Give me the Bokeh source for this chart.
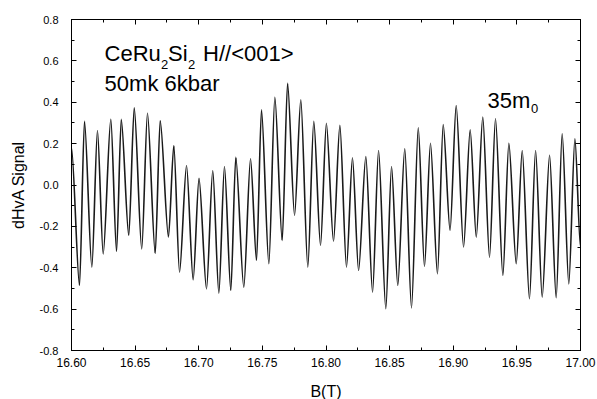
from bokeh.plotting import figure
from bokeh.models import LinearAxis, SingleIntervalTicker, PrintfTickFormatter, Range1d, CustomJSTickFormatter, ColumnDataSource
from bokeh.core.properties import value
from bokeh.embed import file_html
from bokeh.resources import INLINE

# Extrema of the dHvA trace (B in tesla, signal in a.u.)
B_T = [16.6000, 16.6063, 16.6102, 16.6160, 16.6204, 16.6249, 16.6309, 16.6354, 16.6391, 16.6450,
       16.6493, 16.6552, 16.6597, 16.6658, 16.6697, 16.6762, 16.6804, 16.6849, 16.6904, 16.6956,
       16.7002, 16.7061, 16.7110, 16.7158, 16.7202, 16.7252, 16.7291, 16.7354, 16.7407, 16.7454,
       16.7493, 16.7551, 16.7598, 16.7656, 16.7698, 16.7753, 16.7802, 16.7857, 16.7904, 16.7957,
       16.8003, 16.8059, 16.8109, 16.8161, 16.8208, 16.8256, 16.8313, 16.8366, 16.8413, 16.8470,
       16.8515, 16.8564, 16.8619, 16.8672, 16.8725, 16.8774, 16.8821, 16.8876, 16.8921, 16.8975,
       16.9023, 16.9081, 16.9133, 16.9181, 16.9232, 16.9285, 16.9332, 16.9390, 16.9437, 16.9495,
       16.9542, 16.9599, 16.9647, 16.9699, 16.9757, 16.9809, 16.9856, 16.9908, 16.9956, 17.0000]

signal = [0.18, -0.486, 0.308, -0.397, 0.263, -0.333, 0.317, -0.321, 0.317, -0.244,
          0.373, -0.309, 0.347, -0.33, 0.312, -0.252, 0.191, -0.421, 0.094, -0.458,
          0.032, -0.502, 0.07, -0.523, 0.089, -0.51, 0.134, -0.494, 0.127, -0.365,
          0.363, -0.381, 0.424, -0.268, 0.492, -0.147, 0.412, -0.397, 0.308, -0.292,
          0.298, -0.272, 0.288, -0.397, 0.131, -0.413, 0.138, -0.518, 0.167, -0.598,
          0.089, -0.486, 0.175, -0.594, 0.276, -0.394, 0.202, -0.429, 0.292, -0.22,
          0.384, -0.3, 0.267, -0.252, 0.328, -0.349, 0.32, -0.437, 0.202, -0.381,
          0.167, -0.55, 0.167, -0.542, 0.143, -0.545, 0.247, -0.478, 0.223, -0.3]

x_range = (16.60, 17.00)
y_range = (-0.8, 0.8)
x_tick_step = 0.05
y_tick_step = 0.2

# Annotation texts: main pieces and subscript pieces
sample_main = ["CeRu", "Si", "H//<001>"]
sample_sub = ["2", "2"]
cond_text = "50mk 6kbar"
mass_main = "35m"
mass_sub = "0"

FONT = "Liberation Sans"

p = figure(output_backend="svg", toolbar_location=None,
           frame_width=509, frame_height=331,
           min_border_left=71, min_border_right=17, min_border_top=19, min_border_bottom=30,
           x_range=Range1d(*x_range), y_range=Range1d(*y_range),
           x_axis_label="B(T)", y_axis_label="dHvA Signal")
p.grid.visible = False
p.outline_line_color = "black"
p.outline_line_width = 1
p.background_fill_color = "white"
p.border_fill_color = "white"

# Cosine-like arcs between consecutive extrema (horizontal tangents at each extremum)
k = 0.28
src = ColumnDataSource(dict(
    x0=B_T[:-1], y0=signal[:-1], x1=B_T[1:], y1=signal[1:],
    cx0=[a + k * (b - a) for a, b in zip(B_T[:-1], B_T[1:])], cy0=signal[:-1],
    cx1=[b - k * (b - a) for a, b in zip(B_T[:-1], B_T[1:])], cy1=signal[1:],
))
p.bezier(x0="x0", y0="y0", x1="x1", y1="y1", cx0="cx0", cy0="cy0", cx1="cx1", cy1="cy1",
         source=src, line_color="#1a1a1a", line_width=1.6)

xt = SingleIntervalTicker(interval=x_tick_step, num_minor_ticks=2)
yt = SingleIntervalTicker(interval=y_tick_step, num_minor_ticks=2)

for ax in p.xaxis:
    ax.ticker = xt
    ax.formatter = PrintfTickFormatter(format="%.2f")
    ax.major_label_standoff = 7
    ax.major_label_text_font_size = "12px"
    ax.axis_label_standoff = 13
    ax.axis_label_text_font_size = "16px"
for ax in p.yaxis:
    ax.ticker = yt
    ax.formatter = PrintfTickFormatter(format="%.1f")
    ax.major_label_standoff = 13
    ax.major_label_text_font_size = "11px"
    ax.axis_label_standoff = 10
    ax.axis_label_text_font_size = "16px"

blank = CustomJSTickFormatter(code="return ''")
top = LinearAxis(ticker=SingleIntervalTicker(interval=x_tick_step, num_minor_ticks=2),
                 formatter=blank, major_label_standoff=0)
right = LinearAxis(ticker=SingleIntervalTicker(interval=y_tick_step, num_minor_ticks=2),
                   formatter=blank, major_label_standoff=0)
p.add_layout(top, "above")
p.add_layout(right, "right")

for ax in p.axis:
    ax.axis_line_color = "black"
    ax.axis_line_width = 1
    ax.major_tick_in = 5
    ax.major_tick_out = 0
    ax.minor_tick_in = 3
    ax.minor_tick_out = 0
    ax.major_tick_line_color = "black"
    ax.minor_tick_line_color = "black"
    ax.major_label_text_font = FONT
    ax.major_label_text_color = "black"
    ax.axis_label_text_font = FONT
    ax.axis_label_text_font_style = "normal"
    ax.axis_label_text_color = "black"

MAIN_PX = 22
SUB_PX = 13
common = dict(text_font=value(FONT), text_color="black", text_baseline="alphabetic")

# "CeRu2Si2 H//<001>" with lowered subscripts (offsets in screen pixels, Arial metrics)
x_lab, y_lab1, y_lab2 = 16.626, 0.634, 0.489
p.text(x=[x_lab] * 3, y=[y_lab1] * 3, text=sample_main,
       x_offset=[0, 63.4, 98.5], text_font_size=f"{MAIN_PX}px", **common)
p.text(x=[x_lab] * 2, y=[y_lab1] * 2, text=sample_sub,
       x_offset=[56.4, 83.4], y_offset=[11, 11], text_font_size=f"{SUB_PX}px", **common)
p.text(x=[x_lab], y=[y_lab2], text=[cond_text], text_font_size=f"{MAIN_PX}px", **common)

# "35m0" with lowered subscript
x_m, y_m = 16.927, 0.408
p.text(x=[x_m], y=[y_m], text=[mass_main], text_font_size=f"{MAIN_PX}px", **common)
p.text(x=[x_m], y=[y_m], text=[mass_sub], x_offset=[43.5], y_offset=[8],
       text_font_size=f"{SUB_PX}px", **common)

open("out.html", "w").write(file_html(p, INLINE))
